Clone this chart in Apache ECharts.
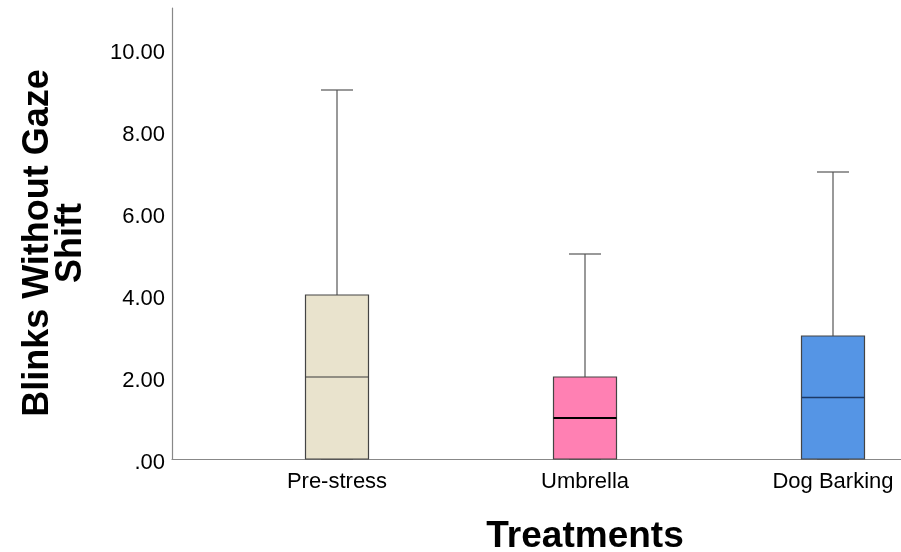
<!DOCTYPE html>
<html>
<head>
<meta charset="utf-8">
<script src="https://cdn.jsdelivr.net/npm/echarts@6/dist/echarts.min.js"></script>
<style>
  html, body { margin: 0; padding: 0; background: #fff; }
  #chart { width: 901px; height: 552px; }
</style>
</head>
<body>
<div id="chart"></div>
<script>
// Treatment groups
const categories = ['Pre-stress', 'Umbrella', 'Dog Barking'];
// Five-number summaries: min, Q1, median, Q3, max
const minimums = [0, 0, 0];
const lowerQuartiles = [0, 0, 0];
const medians = [2, 1, 1.5];
const upperQuartiles = [4, 2, 3];
const maximums = [9, 5, 7];
// Y axis ticks
const yTicks = [0, 2, 4, 6, 8, 10];

const boxFills = ['#E9E3CD', '#FF80B3', '#5595E5'];
const medianColors = ['#3a3a3a', '#000000', '#1d3a66'];
const medianWidths = [1.2, 2, 1.5];

const boxData = categories.map((c, i) => [
  i, minimums[i], lowerQuartiles[i], medians[i], upperQuartiles[i], maximums[i]
]);

const FONT = 'Arial, "Liberation Sans", sans-serif';

function renderBox(params, api) {
  const idx = api.value(0);
  const band = api.size([1, 0])[0];
  const boxW = band * 0.254;
  const capW = band * 0.129;
  const pMin = api.coord([idx, api.value(1)]);
  const pQ1 = api.coord([idx, api.value(2)]);
  const pMed = api.coord([idx, api.value(3)]);
  const pQ3 = api.coord([idx, api.value(4)]);
  const pMax = api.coord([idx, api.value(5)]);
  const cx = pQ1[0];
  const lineStyle = { stroke: '#555', lineWidth: 1.2 };
  return {
    type: 'group',
    children: [
      // upper whisker
      { type: 'line', shape: { x1: cx, y1: pQ3[1], x2: cx, y2: pMax[1] }, style: lineStyle },
      { type: 'line', shape: { x1: cx - capW / 2, y1: pMax[1], x2: cx + capW / 2, y2: pMax[1] }, style: lineStyle },
      // lower whisker
      { type: 'line', shape: { x1: cx, y1: pQ1[1], x2: cx, y2: pMin[1] }, style: lineStyle },
      { type: 'line', shape: { x1: cx - capW / 2, y1: pMin[1], x2: cx + capW / 2, y2: pMin[1] }, style: lineStyle },
      // box
      {
        type: 'rect',
        shape: { x: cx - boxW / 2, y: pQ3[1], width: boxW, height: pQ1[1] - pQ3[1] },
        style: { fill: boxFills[idx], stroke: '#444', lineWidth: 1.2 }
      },
      // median
      {
        type: 'line',
        shape: { x1: cx - boxW / 2, y1: pMed[1], x2: cx + boxW / 2, y2: pMed[1] },
        style: { stroke: medianColors[idx], lineWidth: medianWidths[idx] }
      }
    ]
  };
}

const chart = echarts.init(document.getElementById('chart'), null, { renderer: 'canvas' });

chart.setOption({
  animation: false,
  backgroundColor: '#fff',
  grid: [
    { left: 172, right: 0, top: 8, bottom: 93, outerBoundsMode: 'none' },
    { left: 213, width: 744, top: 8, bottom: 93, outerBoundsMode: 'none', containLabel: false }
  ],
  xAxis: [
    {
      gridIndex: 0, type: 'value', min: 0, max: 1,
      axisLine: { show: true, lineStyle: { color: '#888', width: 1.2 } },
      axisTick: { show: false }, axisLabel: { show: false }, splitLine: { show: false }
    },
    {
      gridIndex: 1, type: 'category', data: categories,
      axisLine: { show: false }, axisTick: { show: false },
      axisLabel: { color: '#000', fontFamily: FONT, fontSize: 22, margin: 12 },
      splitLine: { show: false }
    }
  ],
  yAxis: [
    {
      gridIndex: 0, type: 'value', min: 0, max: 11, interval: 2,
      axisLine: { show: true, lineStyle: { color: '#888', width: 1.2 } },
      axisTick: { show: false }, splitLine: { show: false },
      axisLabel: {
        color: '#000', fontFamily: FONT, fontSize: 22, margin: 7,
        formatter: v => (yTicks.includes(v) ? '{t|' + (v === 0 ? '.00' : v.toFixed(2)) + '}' : ''),
        rich: { t: { fontFamily: FONT, fontSize: 22, color: '#000', padding: [8, 0, 0, 0] } }
      }
    },
    { gridIndex: 1, type: 'value', min: 0, max: 11, show: false }
  ],
  graphic: [
    {
      type: 'text', x: 585, y: 537,
      style: {
        text: 'Treatments', fill: '#000', font: 'bold 37px ' + FONT,
        align: 'center', verticalAlign: 'middle'
      }
    },
    {
      type: 'text', x: 55, y: 243, rotation: Math.PI / 2,
      style: {
        text: 'Blinks Without Gaze\nShift', fill: '#000', font: 'bold 36px ' + FONT,
        lineHeight: 33, align: 'center', verticalAlign: 'middle'
      }
    }
  ],
  series: [
    {
      type: 'custom',
      xAxisIndex: 1, yAxisIndex: 1,
      renderItem: renderBox,
      encode: { x: 0, y: [1, 2, 3, 4, 5] },
      data: boxData
    }
  ]
});
</script>
</body>
</html>
